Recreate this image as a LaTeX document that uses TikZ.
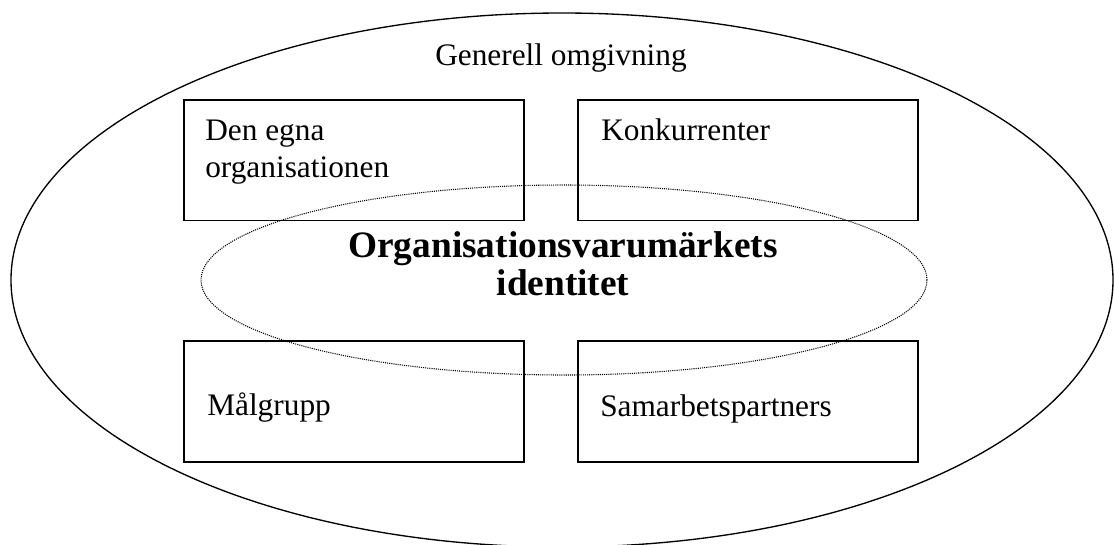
\documentclass[tikz,border=0pt]{standalone}
\usepackage{fontspec}
\setmainfont{Liberation Serif}
\usetikzlibrary{shapes.geometric}
\tikzset{
  boxnode/.style={draw=black, line width=1.25pt, rectangle, inner sep=0pt, outer sep=0pt,
    minimum width=255pt, minimum height=90.5pt},
  txt/.style={anchor=base west, inner sep=0pt, font=\fontsize{23.5pt}{27pt}\selectfont},
  titletxt/.style={anchor=base, inner sep=0pt, font=\fontsize{28pt}{32pt}\selectfont\bfseries},
  outerell/.style={draw=black, line width=1pt, ellipse, inner sep=0pt, minimum width=826.5pt, minimum height=400.5pt},
  innerell/.style={draw=black, line width=0.8pt, dash pattern=on 0.8pt off 0.8pt, ellipse, inner sep=0pt, minimum width=544.5pt, minimum height=142.5pt}
}
\begin{document}
\begin{tikzpicture}[x=0.75pt, y=-0.75pt]
\useasboundingbox (0,0) rectangle (1114,544);
\clip (0,0) rectangle (1114,544);
\fill[white] (0,0) rectangle (1114,544);
\node[outerell] (outer) at (562,280) {};
\node[txt] (gen) at (435,65) {Generell omgivning};
\node[boxnode] (own) at (354,160) {};
\node[boxnode] (comp) at (748,160) {};
\node[boxnode] (target) at (354,401.5) {};
\node[boxnode] (partners) at (748,401.5) {};
\node[innerell] (core) at (564,280) {};
\node[txt] (own1) at (205,140) {Den egna};
\node[txt] (own2) at (205,177) {organisationen};
\node[txt] (comp1) at (601,140) {Konkurrenter};
\node[txt] (target1) at (207,415) {Målgrupp};
\node[txt] (partners1) at (600,416) {Samarbetspartners};
\node[titletxt] (core1) at (563,257) {Organisationsvarumärkets};
\node[titletxt] (core2) at (563,295) {identitet};
\end{tikzpicture}
\end{document}
